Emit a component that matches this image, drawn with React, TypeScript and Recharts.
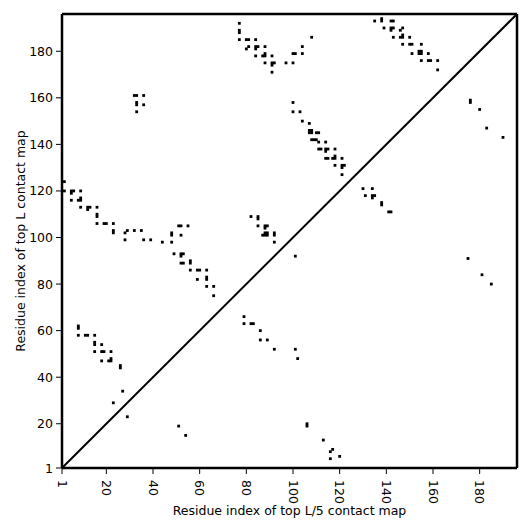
import {
  ReferenceLine,
  Scatter,
  ScatterChart,
  XAxis,
  YAxis,
} from "recharts";

// [x, y] residue pairs above the diagonal (top L contact map)
const topLContacts: [number, number][] = [
  [33, 161], [32, 161], [36, 161], [33, 158], [33, 157], [36, 157], [33, 154],
  [77, 192], [77, 189], [77, 188], [77, 185], [80, 185], [81, 185], [84, 185], [108, 186],
  [80, 181], [81, 182], [84, 182], [85, 182], [84, 181], [88, 182], [104, 182],
  [84, 178], [87, 178], [88, 178], [88, 179], [91, 178], [100, 179], [101, 179], [104, 179],
  [88, 175], [91, 175], [92, 175], [91, 174], [97, 175], [100, 175], [91, 171],
  [100, 158], [100, 154], [103, 154], [104, 150], [107, 149], [107, 146], [108, 146],
  [107, 145], [108, 145], [110, 145], [111, 145],
  [108, 142], [109, 142], [110, 142], [111, 141], [114, 141], [111, 138], [112, 138],
  [114, 138], [115, 138], [114, 137], [118, 138],
  [114, 134], [115, 134], [117, 134], [118, 134], [118, 135], [121, 134], [118, 131],
  [121, 131], [122, 131], [121, 130], [121, 127],
  [135, 193], [138, 194], [138, 193], [142, 193], [143, 193], [139, 190], [142, 190],
  [143, 190], [142, 189], [147, 190], [146, 189],
  [143, 186], [146, 186], [147, 186], [147, 187], [150, 186], [147, 183], [150, 183],
  [151, 183], [155, 183],
  [151, 179], [154, 180], [155, 180], [154, 179], [155, 179], [158, 179], [155, 176],
  [158, 176], [159, 176], [162, 176], [162, 172],
  [2, 124], [2, 120], [5, 120], [6, 120], [5, 119], [9, 120], [5, 116], [8, 116], [9, 116],
  [9, 117], [9, 113], [12, 113], [13, 113], [12, 112], [16, 113],
  [16, 110], [16, 109], [16, 106], [19, 106], [20, 106], [23, 106], [23, 103], [23, 102],
  [28, 102], [29, 103], [32, 103], [35, 103], [28, 99], [36, 99], [39, 99], [44, 98],
  [48, 102], [48, 101], [48, 98], [51, 105], [52, 105], [55, 105], [52, 101], [49, 93],
  [52, 93], [53, 93], [52, 92], [52, 89], [53, 89], [56, 90], [56, 89],
  [56, 86], [59, 86], [60, 86], [63, 86], [59, 82], [63, 83], [63, 82], [63, 79], [66, 79], [66, 75],
  [82, 109], [85, 109], [85, 108], [85, 105], [88, 105], [89, 105], [88, 104], [88, 102],
  [89, 102], [88, 101], [89, 101], [87, 101], [92, 102], [92, 101], [92, 98],
  [130, 121], [134, 121], [131, 118], [134, 118], [135, 118], [134, 117], [138, 115],
  [138, 114], [141, 111], [142, 111],
  [8, 62], [8, 61], [8, 58], [11, 58], [12, 58], [15, 58], [15, 55], [15, 54], [15, 51],
  [18, 54], [18, 51], [19, 51], [22, 51], [18, 47], [21, 47], [22, 47], [22, 48],
  [26, 45], [26, 44], [27, 34], [23, 29],
];

// [x, y] residue pairs below the diagonal (top L/5 contact map)
const topL5Contacts: [number, number][] = [
  [175, 91], [181, 84], [185, 80], [176, 159], [176, 158], [180, 155], [183, 147], [190, 143],
  [101, 92], [79, 66], [79, 63], [82, 63], [83, 63], [86, 60], [86, 56], [89, 56],
  [92, 52], [101, 52], [102, 48],
  [29, 23], [51, 19], [54, 15], [106, 20], [106, 19], [113, 13], [116, 8], [117, 9],
  [116, 5], [120, 6],
];

const AXIS_TICKS = [1, 20, 40, 60, 80, 100, 120, 140, 160, 180];
const RESIDUE_DOMAIN: [number, number] = [1, 196];

const FONT = "DejaVu Sans";
const FONT_SIZE = 12.5;

const toPoints = (pairs: [number, number][]) => pairs.map(([x, y]) => ({ x, y }));

function CellShape(props: any) {
  const { cx, cy } = props;
  if (cx == null || cy == null) return <g />;
  return <rect x={cx - 1.4} y={cy - 1.4} width={2.8} height={2.8} fill="#000" />;
}

function RotatedTick({ x, y, payload }: any) {
  return (
    <text
      x={x}
      y={y}
      transform={`rotate(90 ${x} ${y})`}
      textAnchor="start"
      dominantBaseline="central"
      fontSize={FONT_SIZE}
      fontFamily={FONT}
      fill="#000"
    >
      {payload.value}
    </text>
  );
}

function YTick({ x, y, payload }: any) {
  return (
    <text
      x={x}
      y={y}
      textAnchor="end"
      dominantBaseline="central"
      fontSize={FONT_SIZE}
      fontFamily={FONT}
      fill="#000"
    >
      {payload.value}
    </text>
  );
}

const axisLine = { stroke: "#000", strokeWidth: 2.5 };
const tickLine = { stroke: "#000", strokeWidth: 1 };

export default function App() {
  return (
    <div style={{ position: "absolute", left: 0, top: 0, background: "#fff" }}>
      <ScatterChart
        width={531}
        height={531}
        margin={{ top: 13, right: 13, bottom: 0, left: 0 }}
      >
        <XAxis
          type="number"
          dataKey="x"
          domain={RESIDUE_DOMAIN}
          ticks={AXIS_TICKS}
          interval={0}
          allowDataOverflow
          height={63}
          axisLine={axisLine}
          tickLine={tickLine}
          tickSize={6}
          tickMargin={6}
          tick={<RotatedTick />}
          label={{
            content: ({ viewBox }: any) => (
              <text
                x={viewBox.x + viewBox.width / 2}
                y={515}
                textAnchor="middle"
                fontSize={FONT_SIZE}
                fontFamily={FONT}
                fill="#000"
              >
                Residue index of top L/5 contact map
              </text>
            ),
          }}
        />
        <XAxis
          xAxisId="top"
          orientation="top"
          type="number"
          domain={RESIDUE_DOMAIN}
          ticks={AXIS_TICKS}
          interval={0}
          allowDataOverflow
          height={1}
          axisLine={axisLine}
          tickLine={tickLine}
          tickSize={6}
          tick={false}
        />
        <YAxis
          type="number"
          dataKey="y"
          domain={RESIDUE_DOMAIN}
          ticks={AXIS_TICKS}
          interval={0}
          allowDataOverflow
          width={62}
          axisLine={axisLine}
          tickLine={tickLine}
          tickSize={6}
          tickMargin={3}
          tick={<YTick />}
          label={{
            content: ({ viewBox }: any) => {
              const cx = 20;
              const cy = viewBox.y + viewBox.height / 2;
              return (
                <text
                  x={cx}
                  y={cy}
                  transform={`rotate(-90 ${cx} ${cy})`}
                  textAnchor="middle"
                  dominantBaseline="central"
                  fontSize={FONT_SIZE}
                  fontFamily={FONT}
                  fill="#000"
                >
                  Residue index of top L contact map
                </text>
              );
            },
          }}
        />
        <YAxis
          yAxisId="right"
          orientation="right"
          type="number"
          domain={RESIDUE_DOMAIN}
          ticks={AXIS_TICKS}
          interval={0}
          allowDataOverflow
          width={1}
          axisLine={axisLine}
          tickLine={tickLine}
          tickSize={6}
          tick={false}
        />
        <ReferenceLine
          segment={[
            { x: 1, y: 1 },
            { x: 196, y: 196 },
          ]}
          stroke="#000"
          strokeWidth={2}
        />
        <Scatter
          data={toPoints(topLContacts)}
          shape={<CellShape />}
          isAnimationActive={false}
        />
        <Scatter
          data={toPoints(topL5Contacts)}
          shape={<CellShape />}
          isAnimationActive={false}
        />
      </ScatterChart>
    </div>
  );
}
